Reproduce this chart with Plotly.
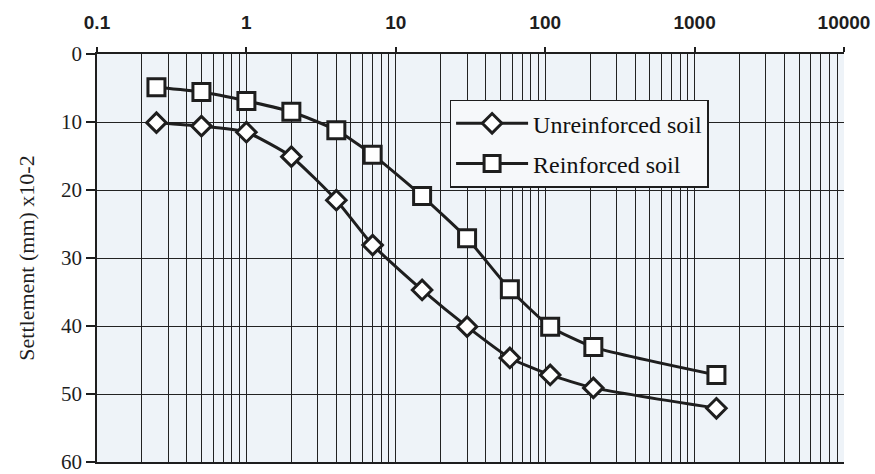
import plotly.graph_objects as go

time_min = [0.25, 0.5, 1, 2, 4, 7, 15, 30, 58, 108, 210, 1400]
unreinforced = [10.1, 10.6, 11.5, 15.1, 21.5, 28.1, 34.7, 40.1, 44.7, 47.2, 49.1, 52.1]
reinforced = [4.9, 5.6, 6.9, 8.5, 11.2, 14.8, 20.9, 27.1, 34.6, 40.1, 43.1, 47.2]
x_ticks = [0.1, 1, 10, 100, 1000, 10000]
x_tick_labels = ["0.1", "1", "10", "100", "1000", "10000"]
y_ticks = [0, 10, 20, 30, 40, 50, 60]

ink = "#1e1e1e"
fig = go.Figure()
fig.add_trace(go.Scatter(
    x=time_min, y=unreinforced, mode="lines+markers", name="Unreinforced soil",
    legendgroup="a",
    line=dict(color=ink, width=3, shape="spline", smoothing=0.5),
    marker=dict(symbol="diamond", size=15, color="white", line=dict(color=ink, width=3)),
))
fig.add_trace(go.Scatter(
    x=time_min, y=reinforced, mode="lines+markers", name="Reinforced soil",
    legendgroup="b",
    line=dict(color=ink, width=3, shape="spline", smoothing=0.5),
    marker=dict(symbol="square", size=17, color="white", line=dict(color=ink, width=3)),
))

fig.update_layout(
    width=875, height=474,
    margin=dict(l=97, r=31, t=54, b=12),
    paper_bgcolor="white", plot_bgcolor="#eef3f8",
    showlegend=True,
    legend=dict(
        x=0.472, y=0.888, xanchor="left", yanchor="top",
        bgcolor="#f6f8fa", bordercolor=ink, borderwidth=1.5,
        font=dict(family="Liberation Serif", size=24, color="#111111"),
        itemwidth=72, tracegroupgap=6,
    ),
    xaxis=dict(
        type="log", side="top", range=[-1, 4], automargin=False,
        tickvals=x_ticks, ticktext=x_tick_labels,
        tickfont=dict(family="Liberation Sans", size=19, color=ink, weight="bold"),
        ticklabelstandoff=10, ticklabeloverflow="allow",
        showgrid=True, gridcolor="#222222", gridwidth=1.4,
        showline=True, linecolor=ink, linewidth=2, mirror=True,
        ticks="outside", ticklen=5, tickcolor=ink, tickwidth=1.5,
        minor=dict(showgrid=True, dtick="D1", gridcolor="#222222", gridwidth=1.4, ticks=""),
        zeroline=False,
    ),
    yaxis=dict(
        range=[60, 0], tickvals=y_ticks, automargin=False,
        ticklabeloverflow="allow",
        tickfont=dict(family="Liberation Serif", size=21, color=ink),
        title=dict(text="Settlement (mm) x10-2", font=dict(family="Liberation Serif", size=22, color=ink), standoff=20),
        showgrid=True, gridcolor="#222222", gridwidth=1.4,
        showline=True, linecolor=ink, linewidth=1.5,
        ticks="outside", ticklen=9, tickcolor=ink, tickwidth=1.5,
        zeroline=False,
    ),
)

fig.write_html("out.html")
